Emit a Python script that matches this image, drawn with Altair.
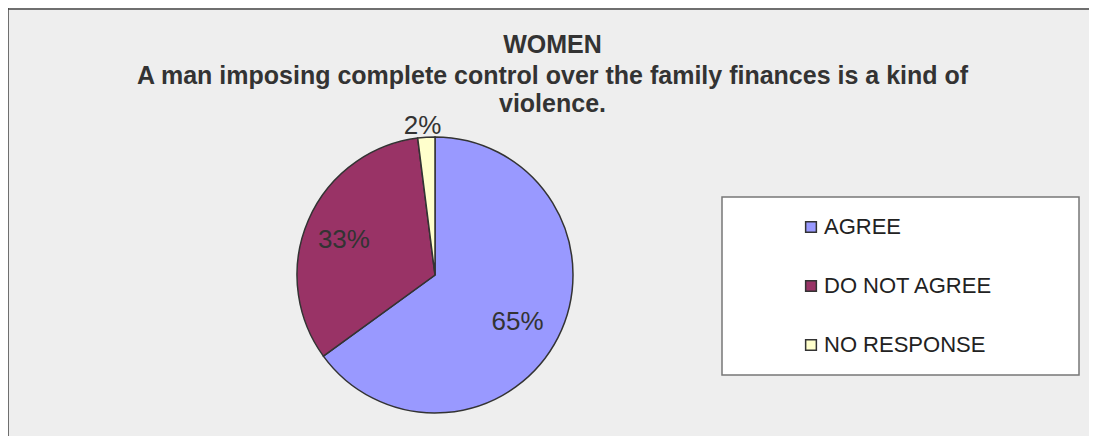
import altair as alt
import pandas as pd

categories = ["AGREE", "DO NOT AGREE", "NO RESPONSE"]
values = [65, 33, 2]
labels = ["65%", "33%", "2%"]
colors = ["#9999FF", "#993366", "#FFFFCC"]
order = [0, 1, 2]

title_main = "WOMEN"
title_sub = ["A man imposing complete control over the family finances is a kind of", "violence."]

df = pd.DataFrame({"category": categories, "value": values, "label": labels, "order": order})

FONT = "Liberation Sans"
W, H = 1081, 428
CX, CY, R = 427, 267, 138

frame = alt.Chart(alt.Data(values=[{"k": 1}]))
left_line = frame.mark_rule(color="#444444", strokeWidth=1.5).encode(
    x=alt.value(0), y=alt.value(0), y2=alt.value(H)
)
top_line = frame.mark_rule(color="#444444", strokeWidth=1.5).encode(
    x=alt.value(0), x2=alt.value(W), y=alt.value(1)
)

box = frame.mark_rect(fill="white", stroke="#777777", strokeWidth=1.5).encode(
    x=alt.value(714), x2=alt.value(1071), y=alt.value(189), y2=alt.value(367)
)

base = alt.Chart(df)

pie = base.mark_arc(outerRadius=R, stroke="#333333", strokeWidth=1.5).encode(
    theta=alt.Theta("value:Q", stack=True),
    order=alt.Order("order:Q"),
    x=alt.value(CX),
    y=alt.value(CY),
    color=alt.Color(
        "category:N",
        scale=alt.Scale(domain=categories, range=colors),
        legend=alt.Legend(
            title=None,
            orient="none",
            legendX=792,
            legendY=208,
            padding=0,
            symbolType="square",
            symbolSize=115,
            symbolStrokeColor="#333333",
            symbolStrokeWidth=1.5,
            symbolOpacity=1,
            labelFont=FONT,
            labelFontSize=22,
            labelColor="#222222",
            labelOffset=2,
            labelLimit=400,
            rowPadding=37,
        ),
    ),
)

text = (
    base.transform_window(cum="sum(value)", sort=[alt.SortField("order")])
    .transform_calculate(mid="datum.cum - datum.value / 2", r="datum.value < 5 ? 152 : 96")
    .mark_text(font=FONT, fontSize=26, color="#333333", dx=-3, dy=3)
    .encode(
        theta=alt.Theta("mid:Q", stack=None),
        x=alt.value(CX),
        y=alt.value(CY),
        radius=alt.Radius("r:Q", scale=None),
        text="label:N",
    )
)

chart = alt.layer(left_line, top_line, box, pie, text).properties(
    width=W,
    height=H,
    padding=0,
    autosize=alt.AutoSizeParams(type="none"),
    background="#eeeeee",
    title=alt.TitleParams(
        text=title_main,
        subtitle=title_sub,
        anchor="middle",
        frame="group",
        font=FONT,
        fontSize=25,
        fontWeight="bold",
        color="#333333",
        subtitleFont=FONT,
        subtitleFontSize=25,
        subtitleFontWeight="bold",
        subtitleColor="#333333",
        subtitleLineHeight=28,
        subtitlePadding=6,
        offset=0,
        dy=110,
        dx=4,
    ),
).configure_view(stroke=None, fill="#eeeeee")

chart.save("out.html", embed_options={"renderer": "svg", "actions": False})
